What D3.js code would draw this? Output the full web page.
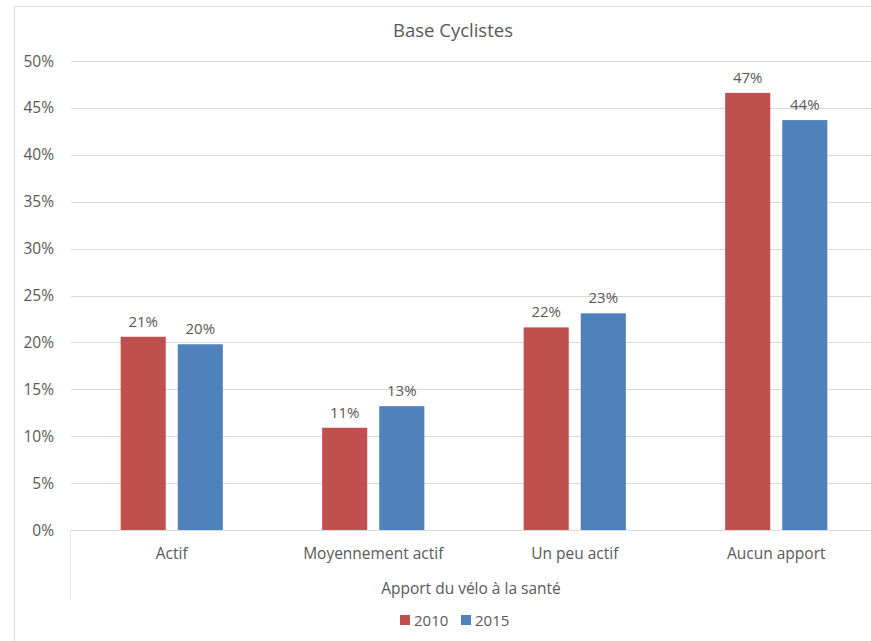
<!DOCTYPE html>
<html>
<head>
<meta charset="utf-8">
<script src="https://cdn.jsdelivr.net/npm/d3@7"></script>
<style>
  body { margin: 0; background: #fff; }
  svg text { font-family: "Open Sans", "Liberation Sans", sans-serif; fill: #595959; }
</style>
</head>
<body>
<svg id="chart" width="871" height="641"></svg>
<script>
const categories = ['Actif', 'Moyennement actif', 'Un peu actif', 'Aucun apport'];
const series = ['2010', '2015'];
const values2010 = [20.6, 10.9, 21.6, 46.6];
const values2015 = [19.8, 13.2, 23.1, 43.7];
const yTicks = [0, 5, 10, 15, 20, 25, 30, 35, 40, 45, 50];
const colors = { '2010': '#C0504D', '2015': '#4F81BD' };

const svg = d3.select('#chart');

// chart border (Excel frame)
svg.append('path')
    .attr('d', 'M14.5,641 V6.5 H871')
    .attr('fill', 'none')
    .attr('stroke', '#D9D9D9');

const x0 = d3.scaleBand().domain(categories).range([71, 877]);
const x1 = d3.scaleBand().domain(series).range([0, x0.bandwidth()])
    .paddingInner(0.21).paddingOuter(0.87);
const y = d3.scaleLinear().domain([0, 50]).range([530, 61]);

// gridlines
svg.append('g')
    .selectAll('line')
    .data(yTicks.filter(d => d > 0))
    .join('line')
    .attr('x1', 71).attr('x2', 877)
    .attr('y1', d => Math.round(y(d)) + 0.5)
    .attr('y2', d => Math.round(y(d)) + 0.5)
    .attr('stroke', '#D9D9D9');

// y tick labels
svg.append('g')
    .selectAll('text')
    .data(yTicks)
    .join('text')
    .attr('x', 54)
    .attr('y', d => y(d) + 5.5)
    .attr('text-anchor', 'end')
    .attr('font-size', 15.5)
    .text(d => d + '%');

// bars
const rows = categories.map((c, i) => ({ cat: c, vals: [values2010[i], values2015[i]] }));
const groups = svg.append('g')
    .selectAll('g')
    .data(rows)
    .join('g')
    .attr('transform', d => `translate(${x0(d.cat)},0)`);

groups.selectAll('rect')
    .data(d => series.map((s, j) => ({ s, v: d.vals[j] })))
    .join('rect')
    .attr('x', d => x1(d.s))
    .attr('width', x1.bandwidth())
    .attr('y', d => y(d.v))
    .attr('height', d => y(0) - y(d.v))
    .attr('fill', d => colors[d.s]);

groups.selectAll('text')
    .data(d => series.map((s, j) => ({ s, v: d.vals[j] })))
    .join('text')
    .attr('x', d => x1(d.s) + x1.bandwidth() / 2)
    .attr('y', d => y(d.v) - 10)
    .attr('text-anchor', 'middle')
    .attr('font-size', 15)
    .text(d => Math.round(d.v) + '%');

// category axis
svg.append('line')
    .attr('x1', 71).attr('x2', 877)
    .attr('y1', 530.5).attr('y2', 530.5)
    .attr('stroke', '#D9D9D9');
svg.append('line')
    .attr('x1', 70.5).attr('x2', 70.5)
    .attr('y1', 530).attr('y2', 600)
    .attr('stroke', '#E6E6E6');

svg.append('g')
    .selectAll('text')
    .data(categories)
    .join('text')
    .attr('x', d => x0(d) + x0.bandwidth() / 2)
    .attr('y', 559)
    .attr('text-anchor', 'middle')
    .attr('font-size', 15.5)
    .text(d => d);

// titles
svg.append('text')
    .attr('x', 453).attr('y', 37)
    .attr('text-anchor', 'middle')
    .attr('font-size', 18.5)
    .text('Base Cyclistes');

svg.append('text')
    .attr('x', 471).attr('y', 594)
    .attr('text-anchor', 'middle')
    .attr('font-size', 15.5)
    .text('Apport du vélo à la santé');

// legend
const legend = svg.append('g').attr('transform', 'translate(400,620)');
const items = legend.selectAll('g')
    .data(series)
    .join('g')
    .attr('transform', (d, i) => `translate(${i * 61},0)`);
items.append('rect')
    .attr('x', 0).attr('y', -5)
    .attr('width', 10).attr('height', 10)
    .attr('fill', d => colors[d]);
items.append('text')
    .attr('x', 14).attr('y', 5.5)
    .attr('font-size', 15)
    .text(d => d);
</script>
</body>
</html>
